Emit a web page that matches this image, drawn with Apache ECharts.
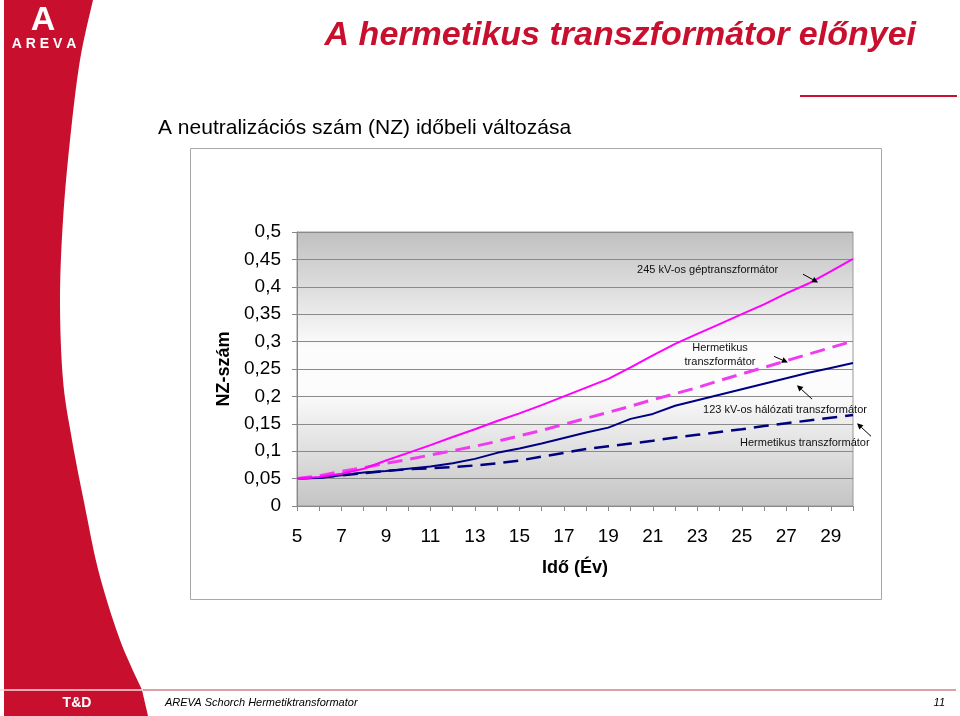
<!DOCTYPE html>
<html><head><meta charset="utf-8">
<script src="https://cdn.jsdelivr.net/npm/echarts@6/dist/echarts.min.js"></script>
<style>html,body{margin:0;padding:0;background:#fff}#c{width:960px;height:716px}</style>
</head><body><div id="c"></div>
<script>
// ---- data ----
const years = [5,6,7,8,9,10,11,12,13,14,15,16,17,18,19,20,21,22,23,24,25,26,27,28,29,30];
const nz245kV = [0.050,0.053,0.059,0.068,0.083,0.097,0.111,0.126,0.140,0.155,0.169,0.184,0.200,0.216,0.232,0.253,0.275,0.296,0.314,0.332,0.350,0.368,0.388,0.406,0.428,0.451];
const nz245Herm = [0.050,0.055,0.063,0.070,0.078,0.085,0.093,0.101,0.109,0.118,0.128,0.138,0.149,0.160,0.171,0.182,0.194,0.205,0.216,0.229,0.241,0.253,0.265,0.277,0.289,0.301];
const nz123kV = [0.050,0.051,0.056,0.061,0.064,0.068,0.072,0.078,0.086,0.097,0.105,0.114,0.124,0.134,0.143,0.159,0.168,0.183,0.193,0.203,0.213,0.223,0.233,0.243,0.252,0.261];
const nz123Herm = [0.050,0.052,0.056,0.060,0.064,0.067,0.069,0.071,0.074,0.078,0.083,0.090,0.097,0.104,0.109,0.114,0.119,0.125,0.130,0.135,0.140,0.146,0.151,0.156,0.161,0.166];
const xLabelYears = [5,7,9,11,13,15,17,19,21,23,25,27,29];
const yTickLabels = ['0','0,05','0,1','0,15','0,2','0,25','0,3','0,35','0,4','0,45','0,5'];

const annotations = [
  {text:'245 kV-os géptranszformátor', at:[20.29,0.430], align:'left'},
  {text:'Hermetikus\ntranszformátor', at:[24.02,0.275], align:'center'},
  {text:'123 kV-os hálózati transzformátor', at:[23.26,0.1746], align:'left'},
  {text:'Hermetikus transzformátor', at:[24.92,0.1144], align:'left'}
];
const arrows = [
  [[27.75,0.423],[28.43,0.408]],
  [[26.45,0.273],[27.07,0.262]],
  [[28.16,0.195],[27.48,0.2203]],
  [[30.81,0.1272],[30.18,0.151]]
];

const RED = '#c8102e';
const FONT = '"Liberation Sans", Arial, sans-serif';

// decorative left band outline (page design, not data): Catmull-Rom through guide points
const bandGuide = [[93,0],[80,60],[70,140],[63,220],[60,300],[63,380],[72,440],[85,507],[99,573],[120,640],[142,690]];
function catmull(pts,n){
  const out=[pts[0]];
  for(let i=0;i<pts.length-1;i++){
    const p0=pts[Math.max(0,i-1)],p1=pts[i],p2=pts[i+1],p3=pts[Math.min(pts.length-1,i+2)];
    for(let k=1;k<=n;k++){const t=k/n,t2=t*t,t3=t2*t;
      const f=(a,b,c,d)=>0.5*((2*b)+(-a+c)*t+(2*a-5*b+4*c-d)*t2+(-a+3*b-3*c+d)*t3);
      out.push([f(p0[0],p1[0],p2[0],p3[0]),f(p0[1],p1[1],p2[1],p3[1])]);}
  }
  return out;
}
const bandPts=[[4,0]].concat(catmull(bandGuide,10)).concat([[148,716],[4,716]]);

const chart = echarts.init(document.getElementById('c'), null, {renderer:'canvas'});

const staticGraphics = [
  {id:'redshape', type:'polygon', z:-10, silent:true, shape:{points:bandPts}, style:{fill:RED}},
  {id:'footlineW', type:'line', z:-9, silent:true, shape:{x1:0,y1:690,x2:144,y2:690}, style:{stroke:'#f4dde0', lineWidth:1.5}},
  {id:'footline', type:'line', z:-9, silent:true, shape:{x1:143,y1:690,x2:956,y2:690}, style:{stroke:'#c04050', lineWidth:1.2}},
  {id:'topline', type:'line', silent:true, shape:{x1:800,y1:96,x2:957,y2:96}, style:{stroke:RED, lineWidth:2}},
  {id:'logoA', type:'text', x:43, y:21, silent:true, style:{text:'A', font:'bold 34px '+FONT, fill:'#fff', align:'center', verticalAlign:'middle'}},
  {id:'logoText', type:'text', x:44, y:44, silent:true, style:{text:'A R E V A', font:'bold 14px '+FONT, fill:'#fff', align:'center', verticalAlign:'middle'}},
  {id:'title', type:'text', x:916, y:36, silent:true, style:{text:'A hermetikus transzformátor előnyei', font:'italic bold 34px '+FONT, fill:RED, align:'right', verticalAlign:'middle'}},
  {id:'subtitle', type:'text', x:158, y:128, silent:true, style:{text:'A neutralizációs szám (NZ) időbeli változása', font:'21px '+FONT, fill:'#000', align:'left', verticalAlign:'middle'}},
  {id:'frame', type:'rect', z:-5, silent:true, shape:{x:190.5,y:148.5,width:691,height:451}, style:{fill:'none', stroke:'#a8a8a8', lineWidth:1}},
  {id:'td', type:'text', x:77, y:703, silent:true, style:{text:'T&D', font:'bold 14px '+FONT, fill:'#fff', align:'center', verticalAlign:'middle'}},
  {id:'foottext', type:'text', x:165, y:703, silent:true, style:{text:'AREVA Schorch Hermetiktransformator', font:'italic 11px '+FONT, fill:'#000', align:'left', verticalAlign:'middle'}},
  {id:'pagenum', type:'text', x:945, y:703, silent:true, style:{text:'11', font:'italic 11px '+FONT, fill:'#000', align:'right', verticalAlign:'middle'}}
];

function mk(vals){ return years.map((y,i)=>[y, vals[i]]); }

const plotGradient = {type:'linear', x:0, y:0, x2:0, y2:1, colorStops:[
  {offset:0,color:'#c0c0c0'},{offset:0.42,color:'#fcfcfc'},{offset:0.58,color:'#fcfcfc'},{offset:1,color:'#c4c4c4'}]};

const option = {
  animation:false,
  backgroundColor:'#fff',
  textStyle:{fontFamily:FONT},
  grid:{left:297, top:232, width:556, height:274, show:true, borderColor:'#999', borderWidth:1,
    backgroundColor:plotGradient},
  xAxis:{type:'value', min:5, max:30, interval:1,
    name:'Idő (Év)', nameLocation:'middle', nameGap:53,
    nameTextStyle:{fontSize:18, fontWeight:'bold', color:'#000', fontFamily:FONT},
    axisLine:{lineStyle:{color:'#888'}},
    axisTick:{show:true, length:5, lineStyle:{color:'#888'}},
    splitLine:{show:false},
    axisLabel:{fontSize:19, color:'#000', margin:21, fontFamily:FONT,
      formatter:v=> xLabelYears.indexOf(v)>=0 ? String(v) : ''}},
  yAxis:{type:'value', min:0, max:0.5, interval:0.05,
    name:'NZ-szám', nameLocation:'middle', nameGap:64,
    nameTextStyle:{fontSize:18, fontWeight:'bold', color:'#000', fontFamily:FONT},
    axisLine:{show:true, lineStyle:{color:'#888'}},
    axisTick:{show:true, length:5, lineStyle:{color:'#888'}},
    splitLine:{show:true, lineStyle:{color:'#8a8a8a', width:1}},
    axisLabel:{fontSize:19, color:'#000', margin:16, fontFamily:FONT,
      formatter:(v)=> yTickLabels[Math.round(v/0.05)]}},
  series:[
    {name:'245 kV-os géptranszformátor', type:'line', data:mk(nz245kV), showSymbol:false, lineStyle:{color:'#ff00ff', width:2}, z:5},
    {name:'Hermetikus transzformátor 245', type:'line', data:mk(nz245Herm), showSymbol:false, lineStyle:{color:'#f03cf0', width:3, type:[15,8]}, z:4},
    {name:'123 kV-os hálózati transzformátor', type:'line', data:mk(nz123kV), showSymbol:false, lineStyle:{color:'#000080', width:2}, z:3},
    {name:'Hermetikus transzformátor 123', type:'line', data:mk(nz123Herm), showSymbol:false, lineStyle:{color:'#000080', width:2.5, type:[15,8]}, z:2}
  ],
  graphic: staticGraphics
};
chart.setOption(option);

const dyn = [];
annotations.forEach((a,i)=>{
  const p = chart.convertToPixel({gridIndex:0}, a.at);
  dyn.push({id:'ann'+i, type:'text', x:p[0], y:p[1], z:20, silent:true,
    style:{text:a.text, font:'11px '+FONT, fill:'#111', align:a.align, verticalAlign:'middle', lineHeight:14}});
});
arrows.forEach((ar,i)=>{
  const p1 = chart.convertToPixel({gridIndex:0}, ar[0]);
  const p2 = chart.convertToPixel({gridIndex:0}, ar[1]);
  const dx=p2[0]-p1[0], dy=p2[1]-p1[1], L=Math.hypot(dx,dy), ux=dx/L, uy=dy/L;
  const hl=6, hw=3;
  const bx=p2[0]-ux*hl, by=p2[1]-uy*hl;
  dyn.push({id:'arl'+i, type:'line', z:20, silent:true, shape:{x1:p1[0],y1:p1[1],x2:bx,y2:by}, style:{stroke:'#000', lineWidth:1}});
  dyn.push({id:'arh'+i, type:'polygon', z:20, silent:true, shape:{points:[[p2[0],p2[1]],[bx-uy*hw,by+ux*hw],[bx+uy*hw,by-ux*hw]]}, style:{fill:'#000'}});
});
chart.setOption({graphic: staticGraphics.concat(dyn)});
</script></body></html>
